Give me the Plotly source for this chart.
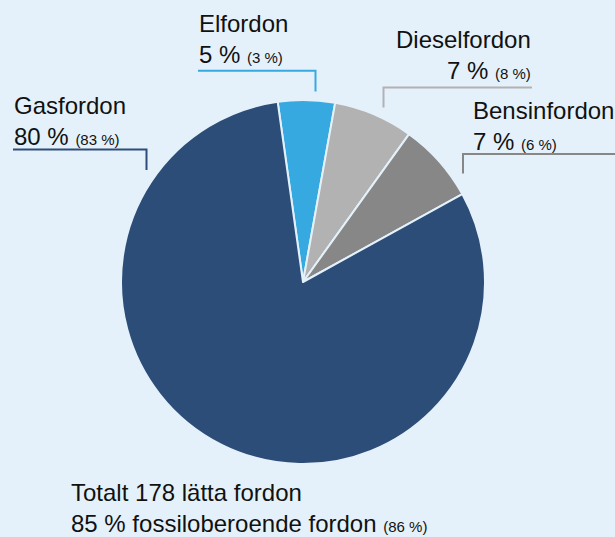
import plotly.graph_objects as go

# Data
labels = ["Elfordon", "Dieselfordon", "Bensinfordon", "Gasfordon"]
shares = [5, 7, 7, 80]            # % share of vehicles (this year)
prev_shares = [3, 8, 6, 83]       # % previous year (in parentheses)
colors = ["#36a9e1", "#b2b2b2", "#878787", "#2c4d78"]
total_vehicles = 178
fossil_free = 85
fossil_free_prev = 86

W, H = 615, 537
BG = "#e5f1fa"

def px(x):
    return x / W

def py(y):
    return 1 - y / H

fig = go.Figure()
fig.add_trace(go.Pie(
    labels=labels,
    values=shares,
    sort=False,
    direction="clockwise",
    rotation=-8,
    marker=dict(colors=colors, line=dict(color=BG, width=2)),
    textinfo="none",
    hoverinfo="label+percent",
    showlegend=False,
    domain=dict(x=[px(121), px(485)], y=[py(464), py(100)]),
))

SMALL = 15
BIG = 24
FONT = "Liberation Sans, Arial, sans-serif"

def label_text(i):
    return (f"{labels[i]}<br>{shares[i]} % "
            f"<span style='font-size:{SMALL}px'>({prev_shares[i]} %)</span>")

# label positions: (x, y_center_of_block, align)
label_pos = {
    "Elfordon": (197, 39, "left"),
    "Dieselfordon": (533, 55, "right"),
    "Bensinfordon": (471, 126, "left"),
    "Gasfordon": (12, 121, "left"),
}

annotations = []
for i, lab in enumerate(labels):
    x, yc, al = label_pos[lab]
    annotations.append(dict(
        x=px(x), y=py(yc), xref="paper", yref="paper",
        xanchor=al, yanchor="middle", align=al,
        text=label_text(i), showarrow=False,
        font=dict(family=FONT, size=BIG, color="#111111"),
    ))

annotations.append(dict(
    x=px(69), y=py(508), xref="paper", yref="paper",
    xanchor="left", yanchor="middle", align="left",
    text=(f"Totalt {total_vehicles} lätta fordon<br>{fossil_free} % fossiloberoende fordon "
          f"<span style='font-size:{SMALL}px'>({fossil_free_prev} %)</span>"),
    showarrow=False,
    font=dict(family=FONT, size=BIG, color="#111111"),
))

# leader lines (polyline paths in paper coords)
leaders = [
    ([(198, 70.7), (315.5, 70.7), (315.5, 91.5)], colors[0]),
    ([(383.5, 107.5), (383.5, 87.5), (532, 87.5)], colors[1]),
    ([(463, 173.5), (463, 154), (615, 154)], colors[2]),
    ([(13, 149.5), (146.5, 149.5), (146.5, 170)], colors[3]),
]
shapes = []
for pts, c in leaders:
    path = "M " + " L ".join(f"{px(x):.5f},{py(y):.5f}" for x, y in pts)
    shapes.append(dict(type="path", xref="paper", yref="paper", path=path,
                       line=dict(color=c, width=2)))

fig.update_layout(
    width=W, height=H,
    margin=dict(l=0, r=0, t=0, b=0),
    paper_bgcolor=BG, plot_bgcolor=BG,
    annotations=annotations,
    shapes=shapes,
    font=dict(family=FONT),
)

fig.write_html("out.html",
               config={"displayModeBar": False},
               post_script="document.body.style.margin='0';document.body.style.overflow='hidden';")
